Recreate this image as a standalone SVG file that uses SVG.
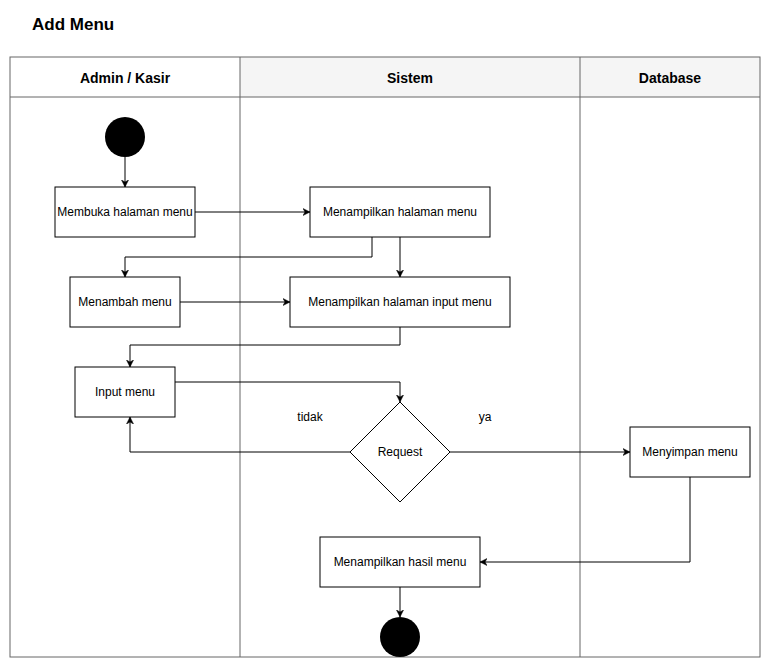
<svg xmlns="http://www.w3.org/2000/svg" width="771" height="668" viewBox="0 0 771 668">
<style>
text{font-family:"Liberation Sans",Arial,sans-serif;fill:#000}
.lbl{font-size:12px;text-anchor:middle;dominant-baseline:central}
.hdr{font-size:14px;font-weight:bold;text-anchor:middle;dominant-baseline:central}
.box{fill:#fff;stroke:#000;stroke-width:1}
.lane{fill:none;stroke:#666;stroke-width:1}
.edge{fill:none;stroke:#000;stroke-width:1}
</style>
<defs>
<marker id="arr" markerWidth="8" markerHeight="8" refX="7" refY="4" orient="auto" markerUnits="userSpaceOnUse">
<path d="M0,0.5 L7,4 L0,7.5 L2,4 Z" fill="#000" stroke="#000" stroke-width="0.5"/>
</marker>
</defs>
<rect width="771" height="668" fill="#fff"/>
<text x="32" y="30" font-size="17" font-weight="bold">Add Menu</text>
<g id="swimlanes">
<rect x="240" y="57" width="520" height="40" fill="#f5f5f5"/>
<rect x="10" y="57" width="750" height="600" class="lane"/>
<line x1="10" y1="97" x2="760" y2="97" class="lane"/>
<line x1="240" y1="57" x2="240" y2="657" class="lane"/>
<line x1="580" y1="57" x2="580" y2="657" class="lane"/>
<text x="125" y="78" class="hdr">Admin / Kasir</text>
<text x="410" y="78" class="hdr">Sistem</text>
<text x="670" y="78" class="hdr">Database</text>
</g>
<g id="connectors">
<path class="edge" d="M125,157 L125,187" marker-end="url(#arr)"/>
<path class="edge" d="M195,212 L310,212" marker-end="url(#arr)"/>
<path class="edge" d="M372,237 L372,257 L125,257 L125,277" marker-end="url(#arr)"/>
<path class="edge" d="M400,237 L400,277" marker-end="url(#arr)"/>
<path class="edge" d="M180,302 L290,302" marker-end="url(#arr)"/>
<path class="edge" d="M400,327 L400,345 L130,345 L130,367" marker-end="url(#arr)"/>
<path class="edge" d="M175,382 L400,382 L400,402" marker-end="url(#arr)"/>
<path class="edge" d="M350,452 L130,452 L130,417" marker-end="url(#arr)"/>
<path class="edge" d="M450,452 L630,452" marker-end="url(#arr)"/>
<path class="edge" d="M690,477 L690,562 L480,562" marker-end="url(#arr)"/>
<path class="edge" d="M400,587 L400,617" marker-end="url(#arr)"/>
<text x="310" y="417" class="lbl" font-size="11">tidak</text>
<text x="485" y="417" class="lbl" font-size="11">ya</text>
</g>
<g id="start"><circle cx="125" cy="137" r="20" fill="#000"/></g>
<g id="membuka"><rect x="55" y="187" width="140" height="50" class="box"/><text x="125" y="212" class="lbl">Membuka halaman menu</text></g>
<g id="tampil-menu"><rect x="310" y="187" width="180" height="50" class="box"/><text x="400" y="212" class="lbl">Menampilkan halaman menu</text></g>
<g id="menambah"><rect x="70" y="277" width="110" height="50" class="box"/><text x="125" y="302" class="lbl">Menambah menu</text></g>
<g id="tampil-input"><rect x="290" y="277" width="220" height="50" class="box"/><text x="400" y="302" class="lbl">Menampilkan halaman input menu</text></g>
<g id="input-menu"><rect x="75" y="367" width="100" height="50" class="box"/><text x="125" y="392" class="lbl">Input menu</text></g>
<g id="request"><path d="M400,402 L450,452 L400,502 L350,452 Z" class="box"/><text x="400" y="452" class="lbl">Request</text></g>
<g id="menyimpan"><rect x="630" y="427" width="120" height="50" class="box"/><text x="690" y="452" class="lbl">Menyimpan menu</text></g>
<g id="hasil"><rect x="320" y="537" width="160" height="50" class="box"/><text x="400" y="562" class="lbl">Menampilkan hasil menu</text></g>
<g id="end"><circle cx="400" cy="637" r="20" fill="#000"/></g>
</svg>
